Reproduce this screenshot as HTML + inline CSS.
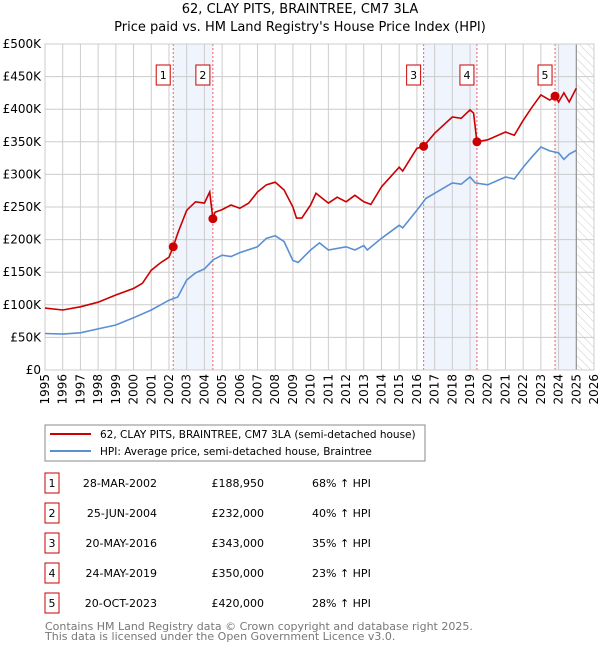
<!DOCTYPE html>
<html><head><meta charset="utf-8"><style>
body{margin:0;background:#fff;font-family:"Liberation Sans","DejaVu Sans",sans-serif;}
svg text{font-family:"DejaVu Sans","Liberation Sans",sans-serif;}
</style></head><body>
<svg id="chart" width="600" height="650" xmlns="http://www.w3.org/2000/svg">
<defs><pattern id="hatch" width="6" height="6" patternUnits="userSpaceOnUse" patternTransform="rotate(-45)"><line x1="0" y1="0" x2="0" y2="6" stroke="#ccc" stroke-width="1"/></pattern></defs>
<text x="300" y="13" text-anchor="middle" font-size="13">62, CLAY PITS, BRAINTREE, CM7 3LA</text>
<text x="300" y="31" text-anchor="middle" font-size="13">Price paid vs. HM Land Registry's House Price Index (HPI)</text>
<g id="plot"></g>
<rect x="45" y="425" width="380" height="36" fill="#fff" stroke="#888"/>
<line x1="50" y1="434" x2="91" y2="434" stroke="#cc0000" stroke-width="2"/>
<text x="100" y="438" font-size="10.5">62, CLAY PITS, BRAINTREE, CM7 3LA (semi-detached house)</text>
<line x1="50" y1="451" x2="91" y2="451" stroke="#5b8fd4" stroke-width="2"/>
<text x="100" y="455" font-size="10.5">HPI: Average price, semi-detached house, Braintree</text>
<g id="table"></g>
<text x="45" y="630" font-size="11" fill="#777">Contains HM Land Registry data © Crown copyright and database right 2025.</text>
<text x="45" y="640" font-size="11" fill="#777">This data is licensed under the Open Government Licence v3.0.</text>
</svg>
<script>
const years=[1995,1996,1997,1998,1999,2000,2001,2002,2003,2004,2005,2006,2007,2008,2009,2010,2011,2012,2013,2014,2015,2016,2017,2018,2019,2020,2021,2022,2023,2024,2025,2026];
const yTicks=[0,50,100,150,200,250,300,350,400,450,500];
const hpiT=[1995,1996,1997,1998,1999,2000,2001,2002,2002.5,2003,2003.5,2004,2004.5,2005,2005.5,2006,2007,2007.5,2008,2008.5,2009,2009.3,2010,2010.5,2011,2012,2012.5,2013,2013.2,2014,2015,2015.2,2016,2016.5,2017,2018,2018.5,2019,2019.3,2020,2021,2021.5,2022,2022.5,2023,2023.5,2024,2024.3,2024.6,2025];
const hpiV=[56,55,57,63,69,80,92,107,112,138,149,155,169,176,174,180,189,202,206,197,168,165,184,195,184,189,184,191,184,202,222,218,245,263,271,287,285,296,287,284,296,293,311,327,342,336,333,323,331,337];
const propT=[1995,1996,1997,1998,1999,2000,2000.5,2001,2001.5,2002,2002.24,2002.5,2003,2003.5,2004,2004.3,2004.48,2004.6,2005,2005.5,2006,2006.5,2007,2007.5,2008,2008.5,2009,2009.2,2009.5,2010,2010.3,2011,2011.5,2012,2012.5,2013,2013.4,2014,2015,2015.2,2016,2016.38,2017,2018,2018.5,2019,2019.2,2019.39,2020,2021,2021.5,2022,2022.5,2023,2023.5,2023.8,2024,2024.3,2024.6,2025];
const propV=[95,92,97,104,115,125,133,153,164,173,189,210,245,258,256,273,232,242,246,253,248,256,273,284,288,276,250,233,233,253,271,256,265,258,268,258,254,281,311,305,340,343,363,388,386,399,394,350,353,365,360,383,403,422,414,420,411,425,411,432];
const saleLabels=["1","2","3","4","5"];
const saleT=[2002.24,2004.48,2016.38,2019.39,2023.8];
const saleV=[188.95,232,343,350,420];
const saleDates=["28-MAR-2002","25-JUN-2004","20-MAY-2016","24-MAY-2019","20-OCT-2023"];
const salePrices=["£188,950","£232,000","£343,000","£350,000","£420,000"];
const saleHpi=["68% ↑ HPI","40% ↑ HPI","35% ↑ HPI","23% ↑ HPI","28% ↑ HPI"];
const dataEnd=2025.0;
const NS="http://www.w3.org/2000/svg";
const X0=45,X1=594,Y0=370,Y1=44;
const xs=t=>X0+(t-1995)/(2026-1995)*(X1-X0);
const ys=v=>Y0-v/500*(Y0-Y1);
const plot=document.getElementById('plot');
function mk(tag,attrs,parent){const e=document.createElementNS(NS,tag);for(const k in attrs)e.setAttribute(k,attrs[k]);(parent||plot).appendChild(e);return e;}
const spans=[[saleT[0],saleT[1]],[saleT[2],saleT[3]],[saleT[4],dataEnd]];
spans.forEach((s,i)=>{const r=mk('rect',{x:xs(s[0]),y:Y1,width:xs(s[1])-xs(s[0]),height:Y0-Y1,fill:'#f0f4fc'});

});
const h=mk('rect',{x:xs(dataEnd),y:Y1,width:X1-xs(dataEnd),height:Y0-Y1,fill:'url(#hatch)'});


years.forEach(y=>{const l=mk('line',{x1:xs(y),x2:xs(y),y1:Y1,y2:Y0,stroke:'#ccc','stroke-width':1});


const t=mk('text',{x:0,y:0,'font-size':12,'text-anchor':'end',transform:`translate(${xs(y)+4},${Y0+4}) rotate(-90)`});
t.textContent=y;

});
yTicks.forEach(v=>{const l=mk('line',{x1:X0,x2:X1,y1:ys(v),y2:ys(v),stroke:'#ccc','stroke-width':1});


const t=mk('text',{x:X0-4,y:ys(v)+4,'font-size':12,'text-anchor':'end'});
t.textContent=v===0?'£0':'£'+v+'K';

});
const el=mk('line',{x1:xs(dataEnd),x2:xs(dataEnd),y1:Y1,y2:Y0,stroke:'#888','stroke-width':1});


saleT.forEach((t,i)=>{const l=mk('line',{x1:xs(t),x2:xs(t),y1:Y1,y2:Y0,stroke:'#f06060','stroke-width':1,'stroke-dasharray':'2,2'});


const b=mk('rect',{x:xs(t)-17,y:65,width:14,height:20,fill:'#fff',stroke:'#cc0000'});


const tx=mk('text',{x:xs(t)-10,y:79,'font-size':11,'text-anchor':'middle'});
tx.textContent=saleLabels[i];

});
mk('rect',{x:X0,y:Y1,width:X1-X0,height:Y0-Y1,fill:'none',stroke:'#ccc'});
const path=(T,V)=>T.map((t,i)=>(i?'L':'M')+xs(t).toFixed(1)+','+ys(V[i]).toFixed(1)).join('');
const hp=mk('path',{d:path(hpiT,hpiV),fill:'none',stroke:'#5b8fd4','stroke-width':1.6});


const pp=mk('path',{d:path(propT,propV),fill:'none',stroke:'#cc0000','stroke-width':1.6});


saleT.forEach((t,i)=>{const c=mk('circle',{cx:xs(t),cy:ys(saleV[i]),r:4.5,fill:'#cc0000'});

});
const tb=document.getElementById('table');
saleLabels.forEach((s,i)=>{const cy=483+i*30;
const b=mk('rect',{x:45,y:cy-10,width:14,height:20,fill:'#fff',stroke:'#cc0000'},tb);


const cells=[[52,'middle',s,'table-label'],[157,'end',saleDates[i],'table-date'],[264,'end',salePrices[i],'table-price'],[312,'start',saleHpi[i],'table-hpi-change']];
cells.forEach(c=>{const t=mk('text',{x:c[0],y:cy+4,'font-size':11,'text-anchor':c[1]},tb);
t.textContent=c[2];

});});
</script>
</body></html>
